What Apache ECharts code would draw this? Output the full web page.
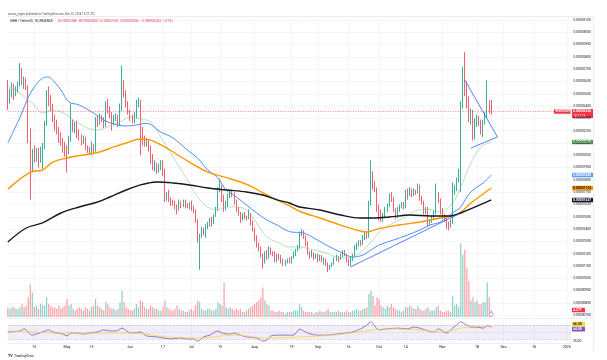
<!DOCTYPE html>
<html><head><meta charset="utf-8">
<script src="https://cdn.jsdelivr.net/npm/echarts@6/dist/echarts.min.js"></script>
<style>html,body{margin:0;padding:0;background:#fff}#c{width:607px;height:360px}</style>
</head><body><div id="c"></div>
<script>
// ---------- DATA (prices in units of 1e-8 USDT) ----------
const firstDay = '2024-04-02';
const lastAxisDay = '2025-01-03';
// [open, close, low, high], daily from 2024-04-02 to 2024-11-25
const ohlc = [
// Apr
[2590,2440,2370,2610],[2440,2500,2420,2540],[2500,2560,2470,2590],[2560,2490,2450,2580],[2490,2530,2480,2560],[2530,2570,2510,2600],[2570,2690,2560,2750],[2690,2590,2570,2710],[2590,2610,2540,2640],[2610,2550,2530,2630],
[2550,2170,2100,2570],[2170,1910,1640,2220],[1910,2010,1860,2050],[2010,1980,1940,2080],[1980,2020,1950,2060],[2020,1960,1900,2060],[1960,2030,1940,2070],[2030,2070,1890,2100],[2070,2250,2050,2280],[2250,2470,2240,2530],
[2470,2460,2400,2560],[2460,2390,2360,2490],[2390,2300,2270,2420],[2300,2260,2200,2330],[2260,2200,2170,2290],[2200,2160,2100,2230],[2160,2120,2080,2190],[2120,2070,2020,2140],[2070,2040,1990,2110],
// May
[2040,2020,1860,2080],[2020,2130,2010,2160],[2130,2250,2110,2420],[2250,2230,2190,2290],[2230,2240,2180,2270],[2240,2170,2140,2280],[2170,2150,2120,2210],[2150,2110,2080,2170],[2110,2130,2090,2160],[2130,2060,2040,2150],
[2060,2050,2020,2080],[2050,2040,2010,2070],[2040,2080,2000,2110],[2080,2040,2020,2090],[2040,2290,2030,2310],[2290,2260,2230,2320],[2260,2310,2250,2340],[2310,2290,2270,2330],[2290,2240,2220,2310],[2240,2420,2230,2440],
[2420,2380,2340,2460],[2380,2320,2300,2400],[2320,2280,2200,2350],[2280,2300,2250,2330],[2300,2310,2280,2340],[2310,2250,2230,2330],[2250,2380,2240,2420],[2380,2580,2360,2730],[2580,2500,2470,2610],[2500,2420,2390,2530],[2420,2350,2330,2440],
// Jun
[2350,2300,2280,2370],[2300,2290,2260,2330],[2290,2310,2260,2350],[2310,2420,2300,2450],[2420,2440,2390,2470],[2440,2190,2000,2450],[2190,2140,2080,2230],[2140,2100,2070,2160],[2100,2110,2070,2140],[2110,2060,2030,2130],
[2060,1960,1930,2080],[1960,1910,1880,2010],[1910,1920,1870,1960],[1920,1880,1850,1940],[1880,1900,1860,1930],[1900,1940,1880,1960],[1940,1870,1830,1960],[1870,1650,1620,1890],[1650,1670,1630,1700],[1670,1640,1620,1720],
[1640,1620,1590,1660],[1620,1610,1590,1640],[1610,1580,1560,1630],[1580,1560,1520,1600],[1560,1620,1550,1640],[1620,1590,1570,1630],[1590,1620,1580,1640],[1620,1590,1570,1640],[1590,1580,1570,1610],[1580,1600,1560,1620],
// Jul
[1600,1570,1550,1630],[1570,1550,1530,1590],[1550,1470,1450,1560],[1470,1310,1290,1480],[1310,1340,1070,1360],[1340,1400,1330,1420],[1400,1370,1350,1410],[1370,1420,1330,1440],[1420,1440,1400,1460],[1440,1470,1420,1490],
[1470,1450,1420,1500],[1450,1510,1440,1520],[1510,1560,1500,1580],[1560,1720,1550,1740],[1720,1750,1700,1810],[1750,1650,1620,1760],[1650,1570,1540,1680],[1570,1600,1550,1630],[1600,1670,1580,1690],[1670,1700,1650,1720],
[1700,1690,1660,1720],[1690,1620,1600,1700],[1620,1560,1540,1640],[1560,1530,1510,1580],[1530,1480,1450,1540],[1480,1510,1470,1530],[1510,1500,1480,1540],[1500,1490,1470,1510],[1490,1520,1480,1560],[1520,1450,1430,1530],[1450,1400,1380,1470],
// Aug
[1400,1330,1300,1410],[1330,1270,1250,1350],[1270,1240,1220,1290],[1240,1190,1170,1260],[1190,1130,1080,1200],[1130,1200,1120,1220],[1200,1170,1150,1230],[1170,1240,1160,1260],[1240,1210,1190,1250],[1210,1200,1180,1220],
[1200,1150,1130,1220],[1150,1180,1130,1200],[1180,1170,1150,1200],[1170,1140,1120,1190],[1140,1120,1100,1160],[1120,1130,1100,1150],[1130,1150,1120,1160],[1150,1130,1120,1170],[1130,1170,1120,1180],[1170,1200,1160,1220],
[1200,1230,1180,1240],[1230,1250,1220,1270],[1250,1360,1240,1380],[1360,1380,1340,1400],[1380,1340,1320,1390],[1340,1280,1260,1350],[1280,1200,1190,1300],[1200,1180,1160,1220],[1180,1200,1170,1230],[1200,1170,1150,1210],[1170,1190,1160,1200],
// Sep
[1190,1150,1130,1200],[1150,1180,1140,1190],[1180,1140,1130,1190],[1140,1150,1110,1170],[1150,1110,1100,1160],[1110,1080,1050,1130],[1080,1100,1070,1110],[1100,1120,1090,1130],[1120,1160,1110,1170],[1160,1170,1140,1190],
[1170,1160,1130,1180],[1160,1180,1150,1200],[1180,1220,1170,1230],[1220,1190,1180,1230],[1190,1150,1130,1200],[1150,1120,1100,1160],[1120,1160,1100,1180],[1160,1190,1140,1200],[1190,1250,1180,1270],[1250,1270,1230,1290],
[1270,1300,1260,1310],[1300,1280,1260,1310],[1280,1330,1270,1350],[1330,1360,1310,1380],[1360,1340,1320,1380],[1340,1600,1330,1630],[1600,1830,1590,1960],[1830,1760,1720,1870],[1760,1730,1700,1790],[1730,1560,1540,1740],
// Oct
[1560,1530,1470,1600],[1530,1480,1460,1560],[1480,1500,1460,1530],[1500,1560,1490,1580],[1560,1590,1540,1610],[1590,1660,1580,1690],[1660,1650,1620,1700],[1650,1560,1540,1660],[1560,1500,1480,1570],[1500,1560,1490,1580],
[1560,1580,1540,1600],[1580,1600,1570,1620],[1600,1580,1560,1620],[1580,1700,1570,1720],[1700,1680,1640,1730],[1680,1720,1670,1740],[1720,1680,1660,1730],[1680,1710,1670,1730],[1710,1700,1680,1720],[1700,1740,1690,1770],
[1740,1650,1630,1760],[1650,1620,1600,1670],[1620,1540,1520,1630],[1540,1560,1520,1580],[1560,1440,1420,1580],[1440,1460,1430,1480],[1460,1500,1450,1510],[1500,1530,1480,1550],[1530,1690,1520,1770],[1690,1630,1610,1700],[1630,1540,1520,1650],
// Nov
[1540,1500,1480,1570],[1500,1480,1460,1520],[1480,1430,1400,1490],[1430,1420,1390,1460],[1420,1450,1410,1480],[1450,1700,1440,1780],[1700,1730,1680,1760],[1730,1800,1710,1820],[1800,1860,1780,1890],[1860,2410,1700,2440],
[2410,2690,2380,2720],[2690,2540,2480,2840],[2540,2440,2380,2600],[2440,2300,2270,2480],[2300,2350,2250,2380],[2350,2150,2120,2370],[2150,2260,2130,2300],[2260,2300,2230,2330],[2300,2270,2240,2320],[2270,2190,2170,2290],
[2190,2270,2150,2290],[2270,2330,2250,2350],[2330,2390,2300,2610],[2390,2380,2340,2450],[2380,2356,2330,2450]
];
// daily volume, trillions of SHIB
const volume = [
6,5,6,6,5,5,6,8,6, 7,12,20,15, 6,7,5,8,7, 7,12, 8,7,6,6,5,7,5,6, 7,
11,7,8, 5,4,5,6,5,4,6,5,4, 6,7,11, 7,6,5,4,9,8,6,5,5,4,5, 9,16,9,6,5,
4,4,5,8,6,10,9,6,5,5, 7,6,5,5,4,4,6, 10, 6,5,4,4,5,7,5,4,4,3,3,4,
5,4, 7,10,9, 5,4,4,5,5,4,4,5, 9,8,7,21, 6,5,6,5,4,5,4,5,3,3, 4,5,6,7,
8, 9,10,12,18, 10,8,7, 4,4,3,3,4,3,3,2,3,3, 3,4,4,4, 8,6, 4,3,3,3,3,2,3,
3,4,3,3,4, 5, 3,3,3,3,4,3,3,3,4,3,3,4, 4,5,4,4,5,5,6, 14,16,13, 7,12,
11, 7,6,5,7,6,8,6, 5,4,4,3,4,6, 6,7,6,5,5,7, 5,4,4,5,6,4, 4,4,6,7, 4,
3,3,4,4,3, 13, 7,8,6, 45,38,41,30,22, 10,12,9,10,8,8,9, 9,21,12,4.27
];
const ma20 = [['2024-04-02',2560],['2024-04-06',2530],['2024-04-10',2474],['2024-04-14',2425],['2024-04-19',2344],['2024-04-24',2368],['2024-05-01',2328],['2024-05-04',2287],['2024-05-11',2222],['2024-05-16',2206],['2024-05-21',2230],['2024-05-27',2271],['2024-06-01',2311],['2024-06-06',2295],['2024-06-11',2271],['2024-06-16',2149],['2024-06-22',1986],['2024-06-29',1799],['2024-07-04',1661],['2024-07-09',1580],['2024-07-14',1555],['2024-07-18',1580],['2024-07-23',1580],['2024-07-28',1555],['2024-08-02',1450],['2024-08-07',1336],['2024-08-13',1287],['2024-08-18',1255],['2024-08-23',1255],['2024-08-30',1230],['2024-09-05',1206],['2024-09-12',1165],['2024-09-17',1165],['2024-09-22',1214],['2024-09-27',1295],['2024-10-01',1376],['2024-10-06',1433],['2024-10-13',1490],['2024-10-20',1555],['2024-10-26',1560],['2024-10-31',1539],['2024-11-06',1612],['2024-11-10',1742],['2024-11-15',1937],['2024-11-20',2068],['2024-11-25',2108]];
const ma50 = [['2024-04-02',2100],['2024-04-08',2311],['2024-04-14',2531],['2024-04-21',2637],['2024-04-23',2628],['2024-04-28',2531],['2024-05-02',2433],['2024-05-07',2409],['2024-05-14',2344],['2024-05-19',2287],['2024-05-24',2254],['2024-05-30',2238],['2024-06-04',2246],['2024-06-09',2260],['2024-06-16',2189],['2024-06-22',2141],['2024-06-29',2043],['2024-07-04',1978],['2024-07-09',1880],['2024-07-14',1815],['2024-07-18',1718],['2024-07-23',1661],['2024-07-28',1596],['2024-08-02',1531],['2024-08-07',1474],['2024-08-12',1433],['2024-08-18',1380],['2024-08-25',1368],['2024-08-30',1328],['2024-09-05',1271],['2024-09-12',1214],['2024-09-18',1173],['2024-09-23',1189],['2024-09-27',1230],['2024-10-01',1271],['2024-10-08',1311],['2024-10-15',1352],['2024-10-21',1393],['2024-10-26',1433],['2024-10-31',1458],['2024-11-06',1531],['2024-11-10',1580],['2024-11-13',1661],['2024-11-16',1718],['2024-11-21',1775],['2024-11-25',1840]];
const ma100 = [['2024-04-02',1725],['2024-04-13',1864],['2024-04-19',1880],['2024-04-24',1945],['2024-05-01',1978],['2024-05-06',1994],['2024-05-12',2011],['2024-05-17',2027],['2024-05-24',2068],['2024-05-30',2100],['2024-06-06',2133],['2024-06-11',2124],['2024-06-16',2084],['2024-06-22',2027],['2024-06-30',1945],['2024-07-09',1864],['2024-07-17',1824],['2024-07-25',1783],['2024-07-31',1742],['2024-08-05',1694],['2024-08-12',1637],['2024-08-18',1590],['2024-08-23',1545],['2024-09-02',1490],['2024-09-12',1433],['2024-09-20',1393],['2024-09-25',1376],['2024-10-01',1405],['2024-10-11',1433],['2024-10-21',1458],['2024-10-26',1474],['2024-10-31',1490],['2024-11-08',1515],['2024-11-15',1612],['2024-11-25',1734]];
const ma200 = [['2024-04-02',1295],['2024-04-11',1409],['2024-04-19',1450],['2024-04-28',1531],['2024-05-07',1580],['2024-05-16',1620],['2024-05-22',1661],['2024-05-30',1718],['2024-06-06',1759],['2024-06-10',1775],['2024-06-14',1783],['2024-06-22',1775],['2024-06-30',1759],['2024-07-09',1734],['2024-07-18',1718],['2024-07-28',1702],['2024-08-05',1677],['2024-08-12',1637],['2024-08-18',1612],['2024-08-23',1580],['2024-09-02',1555],['2024-09-12',1515],['2024-09-22',1490],['2024-09-28',1490],['2024-10-06',1498],['2024-10-16',1515],['2024-10-26',1507],['2024-11-05',1507],['2024-11-10',1531],['2024-11-25',1637]];
const rsi = [['2024-04-02',50],['2024-04-08',53],['2024-04-10',59],['2024-04-14',41],['2024-04-16',44],['2024-04-19',50],['2024-04-22',56],['2024-04-24',50],['2024-04-29',44],['2024-05-01',39],['2024-05-03',47],['2024-05-06',47],['2024-05-09',44],['2024-05-12',47],['2024-05-16',50],['2024-05-19',56],['2024-05-22',53],['2024-05-25',53],['2024-05-28',61],['2024-05-31',50],['2024-06-02',47],['2024-06-06',50],['2024-06-09',39],['2024-06-14',36],['2024-06-17',33],['2024-06-21',30],['2024-06-25',33],['2024-06-29',30],['2024-07-02',30],['2024-07-04',24],['2024-07-07',36],['2024-07-10',41],['2024-07-14',53],['2024-07-16',47],['2024-07-20',44],['2024-07-22',47],['2024-07-25',41],['2024-07-28',36],['2024-08-02',33],['2024-08-05',24],['2024-08-07',27],['2024-08-09',39],['2024-08-12',41],['2024-08-17',41],['2024-08-20',41],['2024-08-23',58],['2024-08-27',47],['2024-09-01',41],['2024-09-05',41],['2024-09-10',44],['2024-09-15',47],['2024-09-18',50],['2024-09-22',59],['2024-09-25',70],['2024-09-27',79],['2024-09-28',73],['2024-10-01',56],['2024-10-05',59],['2024-10-10',61],['2024-10-15',59],['2024-10-18',64],['2024-10-21',61],['2024-10-25',53],['2024-10-28',50],['2024-10-30',59],['2024-11-03',47],['2024-11-06',61],['2024-11-08',70],['2024-11-10',79],['2024-11-11',76],['2024-11-13',70],['2024-11-15',64],['2024-11-18',64],['2024-11-21',61],['2024-11-23',67],['2024-11-25',64]];
const rsiMa = [['2024-04-02',53],['2024-04-14',50],['2024-05-01',47],['2024-05-17',47],['2024-06-02',47],['2024-06-19',36],['2024-07-05',33],['2024-07-22',41],['2024-08-07',33],['2024-08-23',36],['2024-09-08',41],['2024-09-25',53],['2024-10-05',59],['2024-10-20',56],['2024-11-01',50],['2024-11-13',64],['2024-11-23',66],['2024-11-25',66.5]];
const trendLine = [['2024-09-17',1092],['2024-11-09',1523]];
const triangle = [['2024-11-12',2612],['2024-11-28',2149],['2024-11-15',2059]];
const tickLabels = [['2024-04-15','15'],['2024-05-01','May'],['2024-05-13','13'],['2024-06-01','Jun'],['2024-06-17','17'],['2024-07-01','Jul'],['2024-07-15','15'],['2024-08-01','Aug'],['2024-08-19','19'],['2024-09-01','Sep'],['2024-09-16','16'],['2024-10-01','Oct'],['2024-10-14','14'],['2024-11-01','Nov'],['2024-11-18','18'],['2024-12-01','Dec'],['2024-12-16','16'],['2025-01-01','2025']];
const priceTicks = {min: 700, max: 3100, step: 100};

// ---------- BUILD ----------
function dayList(a, b) { const out = []; let t = Date.parse(a + 'T00:00:00Z'); const e = Date.parse(b + 'T00:00:00Z'); while (t <= e) { out.push(new Date(t).toISOString().slice(0, 10)); t += 86400000; } return out; }
const categories = dayList(firstDay, lastAxisDay);
const lastDate = categories[ohlc.length - 1];
const UP = '#089981', DOWN = '#F23645';
const FONT = 'Roboto, "Noto Sans", sans-serif';
const fmtPrice = v => (v / 1e8).toFixed(8);
const tickMap = Object.fromEntries(tickLabels);
const isTick = (i, v) => tickMap[v] !== undefined;
const G = {left: 7.84, width: 563.04};
const gridLine = '#eef0f4';

const volData = volume.map((v, k) => ({value: v, itemStyle: {color: ohlc[k][1] >= ohlc[k][0] ? 'rgba(8,153,129,0.45)' : 'rgba(242,54,69,0.45)'}}));
const last = ohlc[ohlc.length - 1];
const prevClose = ohlc[ohlc.length - 2][1];
const chg = last[1] - prevClose;

function xAx(gi, showLabels) {
  return {type: 'category', gridIndex: gi, data: categories, boundaryGap: false,
    axisLine: {show: showLabels, lineStyle: {color: '#e0e3eb', width: 0.6}}, axisTick: {show: false},
    axisLabel: {show: showLabels, interval: isTick, formatter: v => tickMap[v] || '', fontSize: 3.6, color: '#131722', margin: 2.2, fontFamily: FONT},
    splitLine: {show: gi !== 1, interval: isTick, lineStyle: {color: gridLine, width: 0.6}}};
}

const chart = echarts.init(document.getElementById('c'), null, {renderer: 'canvas', width: 607, height: 360});
const lineS = (name, data, color, width, extra) => Object.assign({name, type: 'line', data, xAxisIndex: 0, yAxisIndex: 0, showSymbol: false, symbol: 'none', smooth: 0.35, silent: true, lineStyle: {color, width}, z: 3}, extra || {});

chart.setOption({
  animation: false,
  backgroundColor: '#fff',
  grid: [
    Object.assign({top: 20, height: 295.2, outerBoundsMode: 'none'}, G),
    Object.assign({top: 217, height: 100, outerBoundsMode: 'none'}, G),
    Object.assign({top: 319, height: 24, outerBoundsMode: 'none'}, G)
  ],
  xAxis: [xAx(0, false), xAx(1, false), xAx(2, true)],
  yAxis: [
    {type: 'value', gridIndex: 0, position: 'right', min: priceTicks.min, max: priceTicks.max, interval: priceTicks.step,
      axisLine: {show: false}, axisTick: {show: false},
      axisLabel: {formatter: fmtPrice, fontSize: 3.3, color: '#131722', margin: 2.5, fontFamily: FONT},
      splitLine: {lineStyle: {color: gridLine, width: 0.6}}},
    {type: 'value', gridIndex: 1, min: 0, max: 61, show: false},
    {type: 'value', gridIndex: 2, min: 18.571, max: 87.143, show: false}
  ],
  series: [
    {name: 'Volume', type: 'bar', xAxisIndex: 1, yAxisIndex: 1, data: volData, barWidth: '62%', silent: true, z: 1},
    {name: 'SHIB', type: 'candlestick', xAxisIndex: 0, yAxisIndex: 0, data: ohlc, barWidth: '62%', silent: true, z: 2,
      itemStyle: {color: UP, color0: DOWN, borderColor: UP, borderColor0: DOWN, borderWidth: 0.8},
      markLine: {silent: true, symbol: 'none', label: {show: false}, lineStyle: {color: DOWN, type: [1, 1.5], width: 0.6}, data: [{yAxis: last[1]}]}},
    lineS('MA20', ma20, '#66bb6a', 0.6, {lineStyle: {color: '#66bb6a', width: 0.6, opacity: 0.75}}),
    lineS('MA50', ma50, '#4d8ff5', 1),
    lineS('MA100', ma100, '#ff9800', 1.4),
    lineS('MA200', ma200, '#131722', 1.4),
    lineS('Trend', trendLine, '#2962ff', 0.8, {smooth: false, z: 4}),
    lineS('Triangle', triangle, '#2962ff', 0.8, {smooth: false, z: 4}),
    {name: 'RSI', type: 'line', xAxisIndex: 2, yAxisIndex: 2, data: rsi, showSymbol: false, symbol: 'none', smooth: 0.3, silent: true,
      lineStyle: {color: '#7e57c2', width: 0.8},
      markArea: {silent: true, itemStyle: {color: 'rgba(126,87,194,0.1)'}, data: [[{yAxis: 30}, {yAxis: 70}]]},
      markLine: {silent: true, symbol: 'none', label: {show: false}, lineStyle: {color: '#9598a1', type: [1.5, 1.5], width: 0.5},
        data: [{yAxis: 70}, {yAxis: 50, lineStyle: {opacity: 0.5}}, {yAxis: 30}]}},
    {name: 'RSI MA', type: 'line', xAxisIndex: 2, yAxisIndex: 2, data: rsiMa, showSymbol: false, symbol: 'none', smooth: 0.4, silent: true,
      lineStyle: {color: '#f5d742', width: 0.8}}
  ]
});

// ---------- labels placed through the chart's own scales ----------
const yP = v => chart.convertToPixel({yAxisIndex: 0}, v);
const yV = v => chart.convertToPixel({yAxisIndex: 1}, v);
const yR = v => chart.convertToPixel({yAxisIndex: 2}, v);
const xLast = chart.convertToPixel({xAxisIndex: 1}, lastDate);

function box(y, text, bg, fg, x0, w, h) {
  x0 = x0 || 572; w = w || 21; h = h || 4.6;
  return {type: 'group', z: 100, children: [
    {type: 'rect', shape: {x: x0, y: y - h / 2, width: w, height: h, r: 0.5}, style: {fill: bg}},
    {type: 'text', style: {x: x0 + 1.2, y: y + 0.1, text, fill: fg, font: 'bold 3.3px ' + FONT, textVerticalAlign: 'middle', textAlign: 'left'}}
  ]};
}
const lastOf = a => a[a.length - 1][1];
const yPrice = yP(last[1]);
let yRa = yR(lastOf(rsiMa)), yRs = yR(lastOf(rsi));
if (Math.abs(yRa - yRs) < 5) { const m = (yRa + yRs) / 2; yRa = m - 2.5; yRs = m + 2.5; }

const gfx = [
  {type: 'line', shape: {x1: 8, y1: 16.5, x2: 593, y2: 16.5}, style: {stroke: '#e0e3eb', lineWidth: 0.6}},
  {type: 'line', shape: {x1: 593.5, y1: 16, x2: 593.5, y2: 351}, style: {stroke: '#e0e3eb', lineWidth: 0.6}},
  {type: 'line', shape: {x1: 8, y1: 318.5, x2: 593, y2: 318.5}, style: {stroke: '#e0e3eb', lineWidth: 0.6}},
  {type: 'text', style: {x: 8, y: 14, text: 'arman_crypto published on TradingView.com, Nov 25, 2024 13:37 UTC', fill: '#50535e', font: '2.8px ' + FONT, textVerticalAlign: 'middle'}},
  {type: 'text', style: {x: 10, y: 21, text: 'SHIB / TetherUS, 1D, BINANCE', fill: '#131722', font: '3.2px ' + FONT, textVerticalAlign: 'middle'}},
  {type: 'text', style: {x: 58, y: 21, text: 'O' + fmtPrice(last[0]) + '  H' + fmtPrice(last[3]) + '  L' + fmtPrice(last[2]) + '  C' + fmtPrice(last[1]) + '  ' + (chg < 0 ? '\u2212' : '+') + fmtPrice(Math.abs(chg)) + ' (' + (chg < 0 ? '\u2212' : '+') + Math.abs(chg / prevClose * 100).toFixed(2) + '%)', fill: DOWN, font: '3.2px ' + FONT, textVerticalAlign: 'middle'}},
  {type: 'text', style: {x: 8, y: 356, text: 'TV', fill: '#131722', font: 'bold 3.6px ' + FONT, textVerticalAlign: 'middle'}},
  {type: 'text', style: {x: 14, y: 356, text: 'TradingView', fill: '#131722', font: '3.6px ' + FONT, textVerticalAlign: 'middle'}},
  // price scale labels
  box(yP(lastOf(ma20)), fmtPrice(lastOf(ma20)), '#43a047', '#fff'),
  box(yP(lastOf(ma50)), fmtPrice(lastOf(ma50)), '#5b9cf6', '#fff'),
  box(yP(lastOf(ma100)), fmtPrice(lastOf(ma100)), '#ff9800', '#131722'),
  box(yP(lastOf(ma200)), fmtPrice(lastOf(ma200)), '#131722', '#fff'),
  {type: 'group', z: 100, children: [
    {type: 'rect', shape: {x: 572, y: yPrice - 2.4, width: 21, height: 9, r: 0.5}, style: {fill: DOWN}},
    {type: 'text', style: {x: 573.2, y: yPrice + 0.1, text: fmtPrice(last[1]), fill: '#fff', font: 'bold 3.3px ' + FONT, textVerticalAlign: 'middle'}},
    {type: 'text', style: {x: 573.2, y: yPrice + 4.3, text: '10:22:13', fill: '#fff', font: '3.1px ' + FONT, textVerticalAlign: 'middle'}}
  ]},
  box(yPrice, 'SHIBUSDT', DOWN, '#fff', 554, 16.5),
  box(yV(volume[volume.length - 1]), volume[volume.length - 1].toFixed(2) + 'T', DOWN, '#fff', 572, 13),
  box(yRa, lastOf(rsiMa).toFixed(2), '#f5d742', '#131722', 572, 13),
  box(yRs, lastOf(rsi).toFixed(2), '#7e57c2', '#fff', 572, 13),
  {type: 'text', style: {x: 573, y: yR(25), text: '25.00', fill: '#131722', font: '3.3px ' + FONT, textVerticalAlign: 'middle'}},
  {type: 'circle', z: 90, shape: {cx: xLast, cy: yV(0) - 2.5, r: 2}, style: {fill: '#fff', stroke: '#9c6ade', lineWidth: 0.6}}
];
chart.setOption({graphic: gfx});
</script>
</body></html>
